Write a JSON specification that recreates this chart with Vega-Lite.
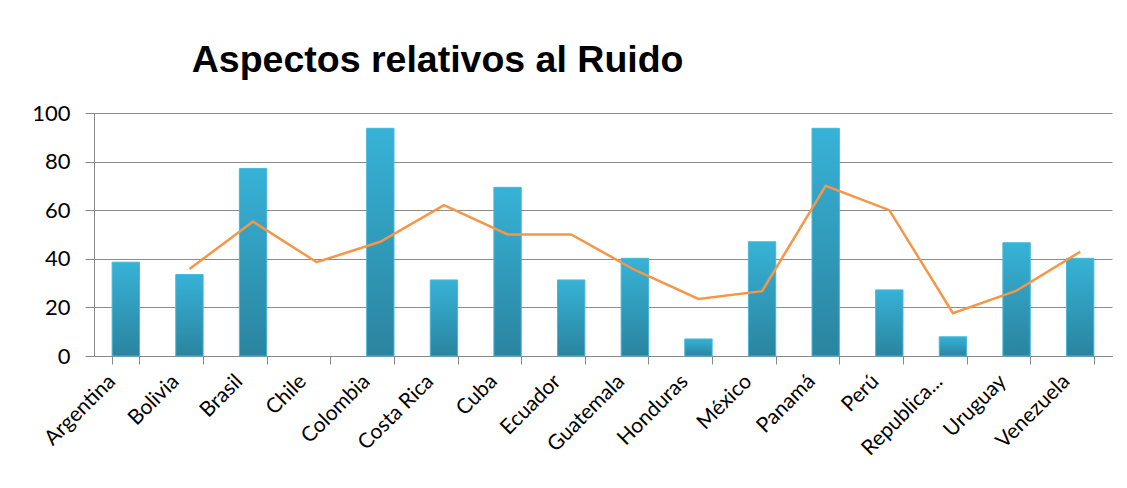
{
  "$schema": "https://vega.github.io/schema/vega-lite/v6.json",
  "autosize": {"type": "none"},
  "width": 1018,
  "height": 243,
  "padding": {"left": 94, "top": 113, "right": 15, "bottom": 132},
  "background": "#ffffff",
  "title": {
    "text": "Aspectos relativos al Ruido",
    "anchor": "start",
    "dx": 160,
    "offset": 23,
    "font": "Liberation Sans",
    "fontSize": 37.5,
    "fontWeight": "bold",
    "color": "#000000"
  },
  "data": {
    "values": [
      {"pais": "Argentina", "barra": 38.6, "linea": null},
      {"pais": "Bolivia", "barra": 33.5, "linea": 35.8},
      {"pais": "Brasil", "barra": 77.2, "linea": 55.3},
      {"pais": "Chile", "barra": null, "linea": 38.6},
      {"pais": "Colombia", "barra": 93.7, "linea": 47},
      {"pais": "Costa Rica", "barra": 31.3, "linea": 62.1},
      {"pais": "Cuba", "barra": 69.4, "linea": 50},
      {"pais": "Ecuador", "barra": 31.3, "linea": 50},
      {"pais": "Guatemala", "barra": 40.2, "linea": 35.4},
      {"pais": "Honduras", "barra": 7, "linea": 23.5},
      {"pais": "México", "barra": 47, "linea": 26.7},
      {"pais": "Panamá", "barra": 93.7, "linea": 70},
      {"pais": "Perú", "barra": 27.2, "linea": 60},
      {"pais": "Republica...", "barra": 7.9, "linea": 17.6},
      {"pais": "Uruguay", "barra": 46.6, "linea": 26.9},
      {"pais": "Venezuela", "barra": 40.2, "linea": 42.9}
    ]
  },
  "encoding": {
    "x": {
      "field": "pais",
      "type": "nominal",
      "sort": ["Argentina", "Bolivia", "Brasil", "Chile", "Colombia", "Costa Rica", "Cuba", "Ecuador", "Guatemala", "Honduras", "México", "Panamá", "Perú", "Republica...", "Uruguay", "Venezuela"],
      "scale": {"paddingInner": 0.57, "paddingOuter": 0.285},
      "axis": {
        "title": null,
        "labelAngle": -45,
        "labelAlign": "right",
        "labelBaseline": "middle",
        "labelFont": "Lato",
        "labelFontSize": 21,
        "labelColor": "#000000",
        "labelPadding": 14,
        "labelOffset": -14,
        "tickBand": "extent",
        "tickSize": 8,
        "tickColor": "#888888",
        "domainColor": "#888888",
        "grid": false
      }
    }
  },
  "layer": [
    {
      "mark": {
        "type": "bar",
        "color": {
          "gradient": "linear",
          "x1": 0, "y1": 0, "x2": 0, "y2": 1,
          "stops": [
            {"offset": 0, "color": "#37B2D7"},
            {"offset": 1, "color": "#2A849F"}
          ]
        },
        "stroke": "#45b8da",
        "strokeWidth": 1
      },
      "encoding": {
        "y": {
          "field": "barra",
          "type": "quantitative",
          "scale": {"domain": [0, 100]},
          "axis": {
            "title": null,
            "values": [0, 20, 40, 60, 80, 100],
            "labelFont": "Lato",
            "labelFontSize": 22,
            "labelColor": "#000000",
            "labelPadding": 15,
            "tickSize": 9,
            "tickColor": "#888888",
            "domainColor": "#888888",
            "gridColor": "#8c8c8c",
            "gridWidth": 1
          }
        }
      }
    },
    {
      "mark": {"type": "line", "color": "#F79646", "strokeWidth": 2.5},
      "encoding": {
        "y": {"field": "linea", "type": "quantitative"}
      }
    }
  ],
  "config": {"view": {"stroke": null}}
}
